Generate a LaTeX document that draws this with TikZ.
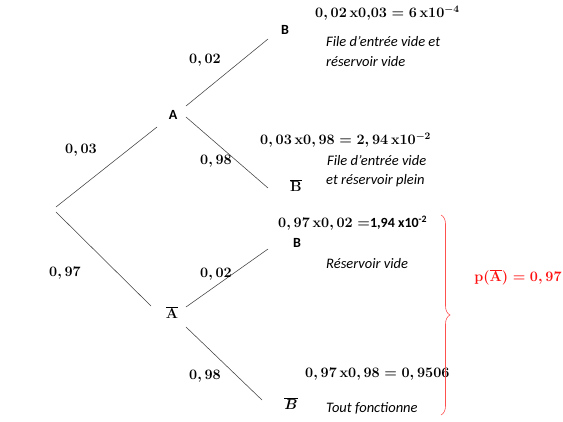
\documentclass[tikz,border=0pt]{standalone}
\usepackage{fontspec}
\usetikzlibrary{decorations.pathreplacing}
\newfontfamily\calibrifont{Carlito}
\definecolor{braceRed}{HTML}{FF5050}
\definecolor{probRed}{HTML}{FF1010}

\begin{document}
\begin{tikzpicture}[
  x=1pt, y=-1pt, line cap=round,
  branch/.style ={black!75, line width=0.55pt},
  prob/.style   ={font=\fontsize{14}{16}\selectfont\boldmath},
  event/.style  ={font=\calibrifont\fontsize{14}{16}\selectfont\bfseries},
  result/.style ={anchor=west, inner sep=0pt, font=\fontsize{14}{16}\selectfont\boldmath},
  note/.style   ={anchor=west, inner sep=0pt, font=\calibrifont\fontsize{14.5}{17}\selectfont\itshape}
]
\useasboundingbox (0,0) rectangle (563,421);

% --- branch end points ---------------------------------------------
\coordinate (root-up) at (56,207);
\coordinate (root-dn) at (56,212);
\coordinate (A-in)    at (157,127);
\coordinate (A-up)    at (186,106);
\coordinate (A-dn)    at (186,117);
\coordinate (Ab-in)   at (151,306);
\coordinate (Ab-up)   at (186,307);
\coordinate (Ab-dn)   at (186,327);
\coordinate (B1-in)   at (268,39);
\coordinate (B2-in)   at (268,188);
\coordinate (B3-in)   at (268,249);
\coordinate (B4-in)   at (262,400);

% --- events ----------------------------------------------------------
\node[event] (A)  at (173,115) {A};
\node[prob]  (Ab) at (172,313) {$\overline{\mathbf{A}}$};
\node[event] (B1) at (285,30)  {B};
\node[prob]  (B2) at (296,186) {$\overline{\mathbf{B}}$};
\node[event] (B3) at (297,243) {B};
\node[prob]  (B4) at (291,404) {$\overline{B}$};

% --- branches --------------------------------------------------------
\draw[branch] (root-up) -- (A-in);
\draw[branch] (root-dn) -- (Ab-in);
\draw[branch] (A-up)  -- (B1-in);
\draw[branch] (A-dn)  -- (B2-in);
\draw[branch] (Ab-up) -- (B3-in);
\draw[branch] (Ab-dn) -- (B4-in);

% --- probabilities on the branches -----------------------------------
\node[prob] (pA)   at (81,150)  {$0,03$};
\node[prob] (pAb)  at (65,273)  {$0,97$};
\node[prob] (pB1)  at (205,60)  {$0,02$};
\node[prob] (pB2)  at (216,161) {$0,98$};
\node[prob] (pB3)  at (216,274) {$0,02$};
\node[prob] (pB4)  at (205,376) {$0,98$};

% --- products and comments -------------------------------------------
\node[result] (r1) at (315,13)  {$0,02\,\mathbf{x}0{,}03=6\,\mathbf{x}10^{-4}$};
\node[note]   (n1a) at (326,42)  {File d’entrée vide et};
\node[note]   (n1b) at (326,62)  {réservoir vide};
\node[result] (r2) at (260,140) {$0,03\,\mathbf{x}0,98=2,94\,\mathbf{x}10^{-2}$};
\node[note]   (n2a) at (327,161) {File d’entrée vide};
\node[note]   (n2b) at (326,181) {et réservoir plein};
\node[result] (r3) at (278,223) {$0,97\,\mathbf{x}0,02=$\calibrifont\bfseries 1,94 x10\textsuperscript{-2}};
\node[note]   (n3) at (326,264) {Réservoir vide};
\node[result] (r4) at (305,374) {$0,97\,\mathbf{x}0,98=0,9506$};
\node[note]   (n4) at (326,408) {Tout fonctionne};

% --- brace and total -------------------------------------------------
\coordinate (br-top) at (441,215);
\coordinate (br-bot) at (441,415);
\draw[braceRed, line width=0.6pt, decorate, decoration={brace, amplitude=9pt}]
  (br-top) -- (br-bot);
\node[prob, text=probRed] (total) at (518,277)
  {$\mathbf{p}(\overline{\mathbf{A}})=0,97$};

\end{tikzpicture}
\end{document}
